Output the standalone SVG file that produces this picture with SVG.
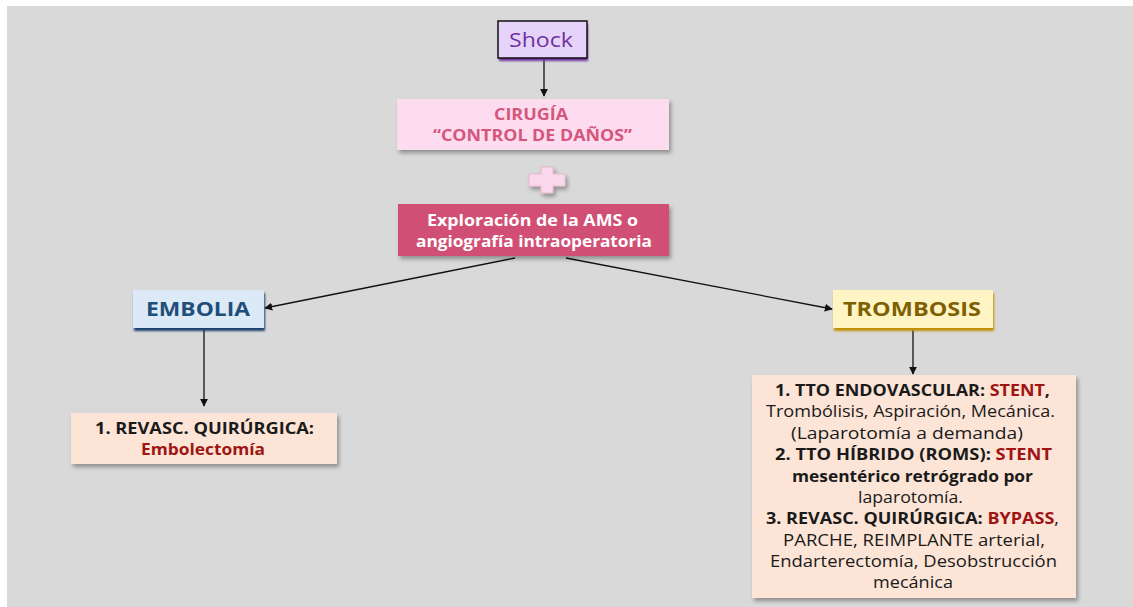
<svg xmlns="http://www.w3.org/2000/svg" width="1133" height="607" viewBox="0 0 1133 607">
<style>
text{font-family:"Open Sans","Noto Sans",sans-serif;text-anchor:middle}
.b{font-weight:bold}
.red{fill:#a01414}
.blk{fill:#1a1a1a}
.ln{stroke:#111;stroke-width:1.3;fill:none}
</style>
<defs>
<marker id="ah" viewBox="0 0 10 10" refX="9" refY="5" markerWidth="8" markerHeight="8" markerUnits="userSpaceOnUse" orient="auto"><path d="M0,0 L10,5 L0,10 z" fill="#111"/></marker>
<filter id="sh" x="-10%" y="-20%" width="125%" height="150%"><feGaussianBlur in="SourceAlpha" stdDeviation="2"/><feOffset dx="2" dy="2.5"/><feComponentTransfer><feFuncA type="linear" slope="0.35"/></feComponentTransfer><feMerge><feMergeNode/><feMergeNode in="SourceGraphic"/></feMerge></filter>
<filter id="bl" x="-10%" y="-30%" width="120%" height="170%"><feGaussianBlur stdDeviation="1.3"/></filter>
</defs>
<rect x="0" y="0" width="1133" height="607" fill="#ffffff"/>
<rect x="7" y="6" width="1126" height="601" fill="#d9d9d9"/>

<g id="connectors">
<line class="ln" x1="544" y1="58" x2="544" y2="96" marker-end="url(#ah)"/>
<line class="ln" x1="515" y1="258" x2="265" y2="308" marker-end="url(#ah)"/>
<line class="ln" x1="566" y1="258" x2="832" y2="309" marker-end="url(#ah)"/>
<line class="ln" x1="204" y1="329" x2="204" y2="406" marker-end="url(#ah)"/>
<line class="ln" x1="913" y1="330" x2="913" y2="374" marker-end="url(#ah)"/>
</g>

<g id="shock">
<rect x="499" y="24" width="89" height="37" fill="#7030a0" filter="url(#bl)"/>
<rect x="498" y="21" width="89" height="37" fill="#e6d3fa" stroke="#111" stroke-width="1.5"/>
<text x="541" y="47" font-size="20" fill="#7030a0" textLength="64" lengthAdjust="spacingAndGlyphs">Shock</text>
</g>

<g id="cirugia">
<rect x="397" y="99" width="272" height="51" fill="#fddcef" filter="url(#sh)"/>
<text class="b" x="531" y="120" font-size="15.5" fill="#d6557c" textLength="74" lengthAdjust="spacingAndGlyphs">CIRUGÍA</text>
<text class="b" x="532.5" y="140.5" font-size="15.5" fill="#d6557c" textLength="199" lengthAdjust="spacingAndGlyphs">“CONTROL DE DAÑOS”</text>
</g>

<g id="plus">
<path d="M541,167 h12 v7 h12 v12 h-12 v7 h-12 v-7 h-12 v-12 h12 z" fill="#fbd7ec" stroke="#e4b9d2" stroke-width="1" filter="url(#sh)"/>
</g>

<g id="exploracion">
<rect x="398" y="204" width="271" height="52" fill="#d14f75" filter="url(#sh)"/>
<text class="b" x="532.5" y="226" font-size="15.5" fill="#ffffff" textLength="211" lengthAdjust="spacingAndGlyphs">Exploración de la AMS o</text>
<text class="b" x="534" y="246.5" font-size="15.5" fill="#ffffff" textLength="236" lengthAdjust="spacingAndGlyphs">angiografía intraoperatoria</text>
</g>

<g id="embolia">
<rect x="134" y="293" width="131" height="38" fill="#1f3f6e" filter="url(#bl)"/>
<rect x="133" y="290" width="131" height="38" fill="#dce9f7"/>
<text class="b" x="198" y="316" font-size="20" fill="#1f4e79" textLength="104" lengthAdjust="spacingAndGlyphs">EMBOLIA</text>
</g>

<g id="embolectomia">
<rect x="71" y="413" width="266" height="51" fill="#fce4d6" filter="url(#sh)"/>
<text class="b blk" x="204.5" y="434" font-size="15.5" textLength="219" lengthAdjust="spacingAndGlyphs">1. REVASC. QUIRÚRGICA:</text>
<text class="b red" x="203" y="455" font-size="15.5" textLength="124" lengthAdjust="spacingAndGlyphs">Embolectomía</text>
</g>

<g id="trombosis">
<rect x="834" y="293" width="160" height="38" fill="#bf9000" filter="url(#bl)"/>
<rect x="833" y="290" width="160" height="38" fill="#fff5c4"/>
<text class="b" x="912" y="316" font-size="20" fill="#7f6000" textLength="138" lengthAdjust="spacingAndGlyphs">TROMBOSIS</text>
</g>

<g id="tratamiento">
<rect x="752" y="375" width="324" height="223" fill="#fce4d6" filter="url(#sh)"/>
<g font-size="15.5" class="blk">
<text x="912.5" y="395.5" class="b blk" textLength="275" lengthAdjust="spacingAndGlyphs">1. TTO ENDOVASCULAR: <tspan class="red">STENT</tspan>,</text>
<text x="910.5" y="417" class="blk" textLength="289" lengthAdjust="spacingAndGlyphs">Trombólisis, Aspiración, Mecánica.</text>
<text x="907" y="438.5" class="blk" textLength="232" lengthAdjust="spacingAndGlyphs">(Laparotomía a demanda)</text>
<text x="913.5" y="460" class="b blk" textLength="277" lengthAdjust="spacingAndGlyphs">2. TTO HÍBRIDO (ROMS): <tspan class="red">STENT</tspan></text>
<text x="912.5" y="481.5" class="b blk" textLength="241" lengthAdjust="spacingAndGlyphs">mesentérico retrógrado por</text>
<text x="910.5" y="502.5" class="blk" textLength="105" lengthAdjust="spacingAndGlyphs">laparotomía.</text>
<text x="912.5" y="524" class="blk" textLength="293" lengthAdjust="spacingAndGlyphs"><tspan class="b">3. REVASC. QUIRÚRGICA: </tspan><tspan class="b red">BYPASS</tspan>,</text>
<text x="914" y="545.5" class="blk" textLength="262" lengthAdjust="spacingAndGlyphs">PARCHE, REIMPLANTE arterial,</text>
<text x="913.5" y="566.5" class="blk" textLength="287" lengthAdjust="spacingAndGlyphs">Endarterectomía, Desobstrucción</text>
<text x="913" y="588" class="blk" textLength="80" lengthAdjust="spacingAndGlyphs">mecánica</text>
</g>
</g>
</svg>
